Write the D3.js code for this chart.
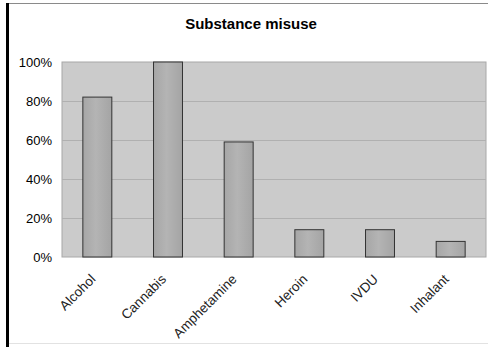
<!DOCTYPE html>
<html>
<head>
<meta charset="utf-8">
<script src="https://cdn.jsdelivr.net/npm/d3@7"></script>
<style>
  html, body { margin: 0; padding: 0; background: #fff; }
  svg { display: block; font-family: "Liberation Sans", Arial, sans-serif; }
</style>
</head>
<body>
<svg id="chart" width="488" height="347"></svg>
<script>
// Share of cases reporting each substance
const categories = ["Alcohol", "Cannabis", "Amphetamine", "Heroin", "IVDU", "Inhalant"];
const values = [0.82, 1.00, 0.59, 0.14, 0.14, 0.08];
const yTicks = [0, 0.2, 0.4, 0.6, 0.8, 1.0];
const title = "Substance misuse";

const svg = d3.select("#chart");
const W = 488, H = 347;
const plot = { left: 62, right: 486, top: 62, bottom: 257 };

// frame: top rule, thick left bar, bottom rule
svg.append("rect").attr("x", 0).attr("y", 0).attr("width", W).attr("height", H).attr("fill", "#fff");
svg.append("line").attr("x1", 6).attr("x2", W).attr("y1", 3.5).attr("y2", 3.5)
  .attr("stroke", "#8a8a8a").attr("stroke-width", 1);
svg.append("line").attr("x1", 6).attr("x2", W).attr("y1", 343.5).attr("y2", 343.5)
  .attr("stroke", "#e2e2e2").attr("stroke-width", 1);
svg.append("rect").attr("x", 6).attr("y", 3).attr("width", 3).attr("height", H - 3).attr("fill", "#000");

const x = d3.scaleBand().domain(categories).range([plot.left, plot.right]).paddingInner(0.59).paddingOuter(0.295);
const y = d3.scaleLinear().domain([0, 1]).range([plot.bottom, plot.top]);

// plot background
svg.append("rect")
  .attr("x", plot.left).attr("y", plot.top)
  .attr("width", plot.right - plot.left).attr("height", plot.bottom - plot.top)
  .attr("fill", "#cbcbcb").attr("stroke", "#a8a8a8").attr("stroke-width", 1);

// gridlines
svg.append("g").selectAll("line").data(yTicks.slice(1, -1)).join("line")
  .attr("x1", plot.left).attr("x2", plot.right)
  .attr("y1", d => Math.round(y(d)) + 0.5).attr("y2", d => Math.round(y(d)) + 0.5)
  .attr("stroke", "#b0b0b0").attr("stroke-width", 1);

// bar shading
const defs = svg.append("defs");
const grad = defs.append("linearGradient").attr("id", "barFill").attr("x1", 0).attr("x2", 1).attr("y1", 0).attr("y2", 0);
grad.append("stop").attr("offset", "0%").attr("stop-color", "#a6a6a6");
grad.append("stop").attr("offset", "45%").attr("stop-color", "#b4b4b4");
grad.append("stop").attr("offset", "100%").attr("stop-color", "#a4a4a4");

svg.append("g").selectAll("rect").data(categories).join("rect")
  .attr("x", d => x(d))
  .attr("y", (d, i) => y(values[i]))
  .attr("width", x.bandwidth())
  .attr("height", (d, i) => y(0) - y(values[i]))
  .attr("fill", "url(#barFill)")
  .attr("stroke", "#333").attr("stroke-width", 1);

// y axis labels
const yAxis = d3.axisLeft(y).tickValues(yTicks).tickFormat(d3.format(".0%")).tickSize(0).tickPadding(10);
const gy = svg.append("g").attr("transform", `translate(${plot.left},0)`).call(yAxis);
gy.select(".domain").remove();
gy.selectAll("text").attr("font-size", 13).attr("fill", "#000")
  .attr("font-family", "'Liberation Sans', Arial, sans-serif");

// x axis labels, rotated
const xAxis = d3.axisBottom(x).tickSize(0).tickPadding(0);
const gx = svg.append("g").attr("transform", `translate(0,${plot.bottom})`).call(xAxis);
gx.select(".domain").remove();
gx.selectAll("text")
  .attr("font-size", 13.5).attr("fill", "#222")
  .attr("font-family", "'Liberation Sans', Arial, sans-serif")
  .attr("text-anchor", "end")
  .attr("dy", 0)
  .attr("transform", "translate(-1,23) rotate(-45)");

// title
svg.append("text").attr("x", 251).attr("y", 29).attr("text-anchor", "middle")
  .attr("font-size", 15).attr("font-weight", "bold").attr("fill", "#000").text(title);
</script>
</body>
</html>
